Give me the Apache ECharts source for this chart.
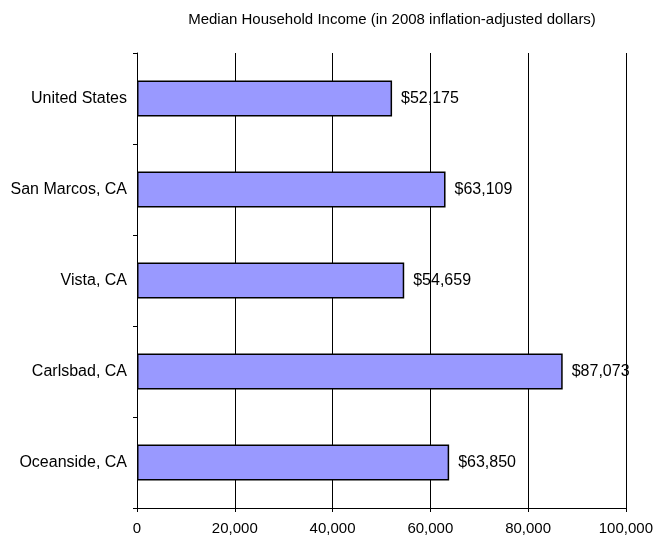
<!DOCTYPE html>
<html>
<head>
<meta charset="utf-8">
<style>
  html, body { margin: 0; padding: 0; background: #fff; }
  #chart { width: 656px; height: 541px; }
</style>
<script src="https://cdn.jsdelivr.net/npm/echarts@6/dist/echarts.min.js"></script>
</head>
<body>
<div id="chart"></div>
<script>
const chartTitle = 'Median Household Income (in 2008 inflation-adjusted dollars)'
// top to bottom
const places = ['United States', 'San Marcos, CA', 'Vista, CA', 'Carlsbad, CA', 'Oceanside, CA']
const incomes = [52175, 63109, 54659, 87073, 63850]

const myChart = echarts.init(document.getElementById('chart'))
const fontFamily = 'Liberation Sans, Arial, sans-serif'

const option = {
  animation: false,
  textStyle: { fontFamily },
  title: {
    text: chartTitle,
    left: 387,
    top: 7,
    textAlign: 'center',
    textStyle: { fontSize: 15, fontWeight: 'normal', color: '#000', fontFamily }
  },
  grid: { left: 137, right: 29, top: 53, bottom: 33, containLabel: false },
  xAxis: {
    type: 'value',
    min: 0,
    max: 100000,
    interval: 20000,
    axisLine: { show: true, lineStyle: { color: '#000', width: 1 } },
    axisTick: { show: true, length: 4, lineStyle: { color: '#000' } },
    splitLine: { show: true, lineStyle: { color: '#000', width: 1 } },
    axisLabel: {
      color: '#000', fontSize: 15, margin: 13,
      formatter: v => v.toLocaleString('en-US')
    }
  },
  yAxis: {
    type: 'category',
    inverse: true,
    data: places,
    axisLine: { show: true, lineStyle: { color: '#000', width: 1 } },
    axisTick: { show: true, length: 4, alignWithLabel: false, lineStyle: { color: '#000' } },
    axisLabel: { color: '#000', fontSize: 16, margin: 10 }
  },
  series: [{
    type: 'bar',
    data: incomes,
    barWidth: 36,
    itemStyle: { color: '#9999FF', borderColor: '#000', borderWidth: 1.5 },
    label: {
      show: true,
      position: 'right',
      distance: 9,
      color: '#000',
      fontSize: 16,
      fontFamily,
      formatter: p => '$' + p.value.toLocaleString('en-US')
    }
  }]
}

myChart.setOption(option)
</script>
</body>
</html>
